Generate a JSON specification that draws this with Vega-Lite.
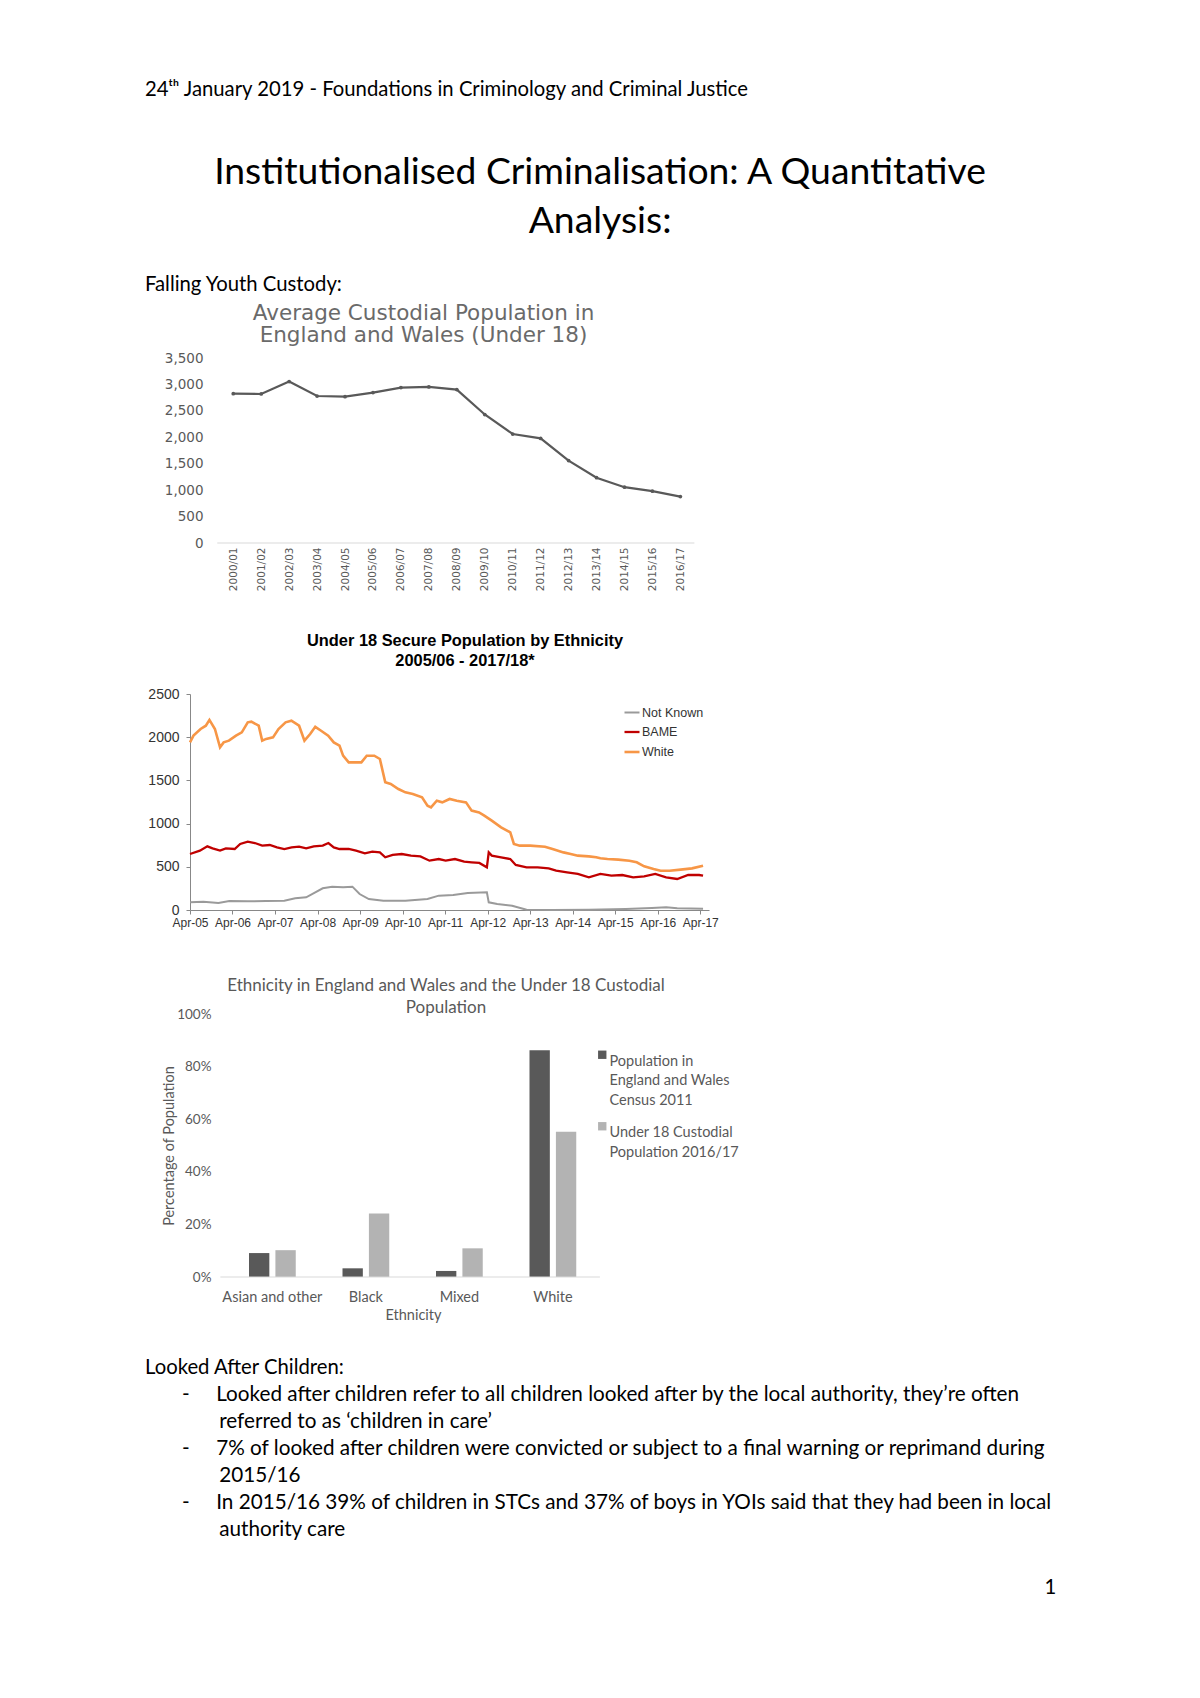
{
  "$schema": "https://vega.github.io/schema/vega-lite/v6.json",
  "background": "white",
  "padding": {"left": 145, "top": 79, "right": 0, "bottom": 0},
  "config": {"view": {"stroke": null}, "font": "Lato", "style": {"guide-label": {"lineHeight": 19.5}}},
  "title": {"text": "24ᵗʰ January 2019 - Foundations in Criminology and Criminal Justice", "anchor": "start", "fontSize": 20.3, "fontWeight": "normal", "font": "Lato", "color": "#000000", "offset": 54},
  "vconcat": [
    {
      "title": {"text": "1", "orient": "bottom", "anchor": "end", "dx": 3, "offset": 38, "fontSize": 20.3, "fontWeight": "normal", "font": "Lato", "color": "#000000"},
      "vconcat": [
        {
          "title": {"text": ["Institutionalised Criminalisation: A Quantitative", "Analysis:"], "anchor": "middle", "fontSize": 37.3, "lineHeight": 49, "fontWeight": "normal", "font": "Lato", "dx": 1, "offset": 34, "color": "#000000"},
          "spacing": 41,
          "resolve": {"scale": {"x": "independent", "y": "independent", "color": "independent", "strokeWidth": "independent"}, "axis": {"x": "independent", "y": "independent"}, "legend": {"color": "independent", "strokeWidth": "independent"}},
          "vconcat": [
            {
              "title": {"text": "Falling Youth Custody:", "anchor": "start", "fontSize": 20.3, "fontWeight": "normal", "font": "Lato", "offset": 7, "color": "#000000"},
              "vconcat": [
                {
                  "width": 503,
                  "height": 185,
                  "title": {"text": ["Average Custodial Population in", "England and Wales (Under 18)"], "fontSize": 21.5, "lineHeight": 22, "color": "#6a6a6a", "fontWeight": "normal", "font": "DejaVu Sans", "offset": 5, "dx": -18},
                  "data": {"values": [
                    {"year": "2000/01", "pop": 2825},
                    {"year": "2001/02", "pop": 2819},
                    {"year": "2002/03", "pop": 3055},
                    {"year": "2003/04", "pop": 2781},
                    {"year": "2004/05", "pop": 2768},
                    {"year": "2005/06", "pop": 2845},
                    {"year": "2006/07", "pop": 2940},
                    {"year": "2007/08", "pop": 2953},
                    {"year": "2008/09", "pop": 2902},
                    {"year": "2009/10", "pop": 2431},
                    {"year": "2010/11", "pop": 2062},
                    {"year": "2011/12", "pop": 1979},
                    {"year": "2012/13", "pop": 1559},
                    {"year": "2013/14", "pop": 1235},
                    {"year": "2014/15", "pop": 1056},
                    {"year": "2015/16", "pop": 980},
                    {"year": "2016/17", "pop": 878}
                  ]},
                  "layer": [
                    {
                      "mark": {"type": "line", "color": "#595959", "strokeWidth": 2.2, "point": {"filled": true, "size": 14, "color": "#595959"}},
                      "encoding": {
                        "x": {"field": "year", "type": "ordinal", "sort": null, "scale": {"type": "point", "padding": 1.125, "align": 0.774}, "axis": {"title": null, "labelAngle": -90, "labelFont": "DejaVu Sans", "labelFontSize": 10.5, "labelColor": "#595959", "domain": false, "ticks": false, "labelPadding": 4}},
                        "y": {"field": "pop", "type": "quantitative", "scale": {"domain": [0, 3500]}, "axis": {"title": null, "values": [0, 500, 1000, 1500, 2000, 2500, 3000, 3500], "format": ",d", "labelOverlap": false, "grid": false, "domain": false, "ticks": false, "offset": -34, "labelPadding": 21, "labelFont": "DejaVu Sans", "labelFontSize": 13.5, "labelColor": "#595959", "minExtent": 79}}
                      }
                    },
                    {
                      "data": {"values": [{}]},
                      "mark": {"type": "rule", "color": "#d9d9d9", "strokeWidth": 1, "xOffset": -16, "x2Offset": 14},
                      "encoding": {
                        "x": {"datum": "2000/01", "type": "ordinal", "axis": {"title": null, "labelAngle": -90, "labelFont": "DejaVu Sans", "labelFontSize": 10.5, "labelColor": "#595959", "domain": false, "ticks": false, "labelPadding": 4}},
                        "x2": {"datum": "2016/17"},
                        "y": {"datum": 0, "type": "quantitative", "axis": {"title": null, "values": [0, 500, 1000, 1500, 2000, 2500, 3000, 3500], "format": ",d", "labelOverlap": false, "grid": false, "domain": false, "ticks": false, "offset": -34, "labelPadding": 21, "labelFont": "DejaVu Sans", "labelFontSize": 13.5, "labelColor": "#595959", "minExtent": 79}}
                      }
                    }
                  ]
                }
              ]
            },
            {
              "width": 519,
              "height": 216,
              "title": {"text": ["Under 18 Secure Population by Ethnicity", "2005/06 - 2017/18*"], "font": "Liberation Sans", "fontSize": 16.4, "fontWeight": "bold", "lineHeight": 20, "color": "#000000", "offset": 18, "dx": 15.5},
              "data": {"values": [
                {"date": "2005-04-01", "series": "Not Known", "value": 89},
                {"date": "2005-07-25", "series": "Not Known", "value": 96},
                {"date": "2005-12-01", "series": "Not Known", "value": 81},
                {"date": "2006-03-05", "series": "Not Known", "value": 104},
                {"date": "2006-08-10", "series": "Not Known", "value": 100},
                {"date": "2007-01-15", "series": "Not Known", "value": 104},
                {"date": "2007-06-20", "series": "Not Known", "value": 108},
                {"date": "2007-09-22", "series": "Not Known", "value": 135},
                {"date": "2007-12-25", "series": "Not Known", "value": 147},
                {"date": "2008-03-12", "series": "Not Known", "value": 204},
                {"date": "2008-05-15", "series": "Not Known", "value": 251},
                {"date": "2008-08-04", "series": "Not Known", "value": 270},
                {"date": "2008-11-06", "series": "Not Known", "value": 262},
                {"date": "2009-01-25", "series": "Not Known", "value": 270},
                {"date": "2009-03-28", "series": "Not Known", "value": 185},
                {"date": "2009-06-15", "series": "Not Known", "value": 127},
                {"date": "2009-10-18", "series": "Not Known", "value": 108},
                {"date": "2010-04-25", "series": "Not Known", "value": 108},
                {"date": "2010-11-01", "series": "Not Known", "value": 127},
                {"date": "2011-02-06", "series": "Not Known", "value": 166},
                {"date": "2011-06-10", "series": "Not Known", "value": 174},
                {"date": "2011-10-13", "series": "Not Known", "value": 197},
                {"date": "2012-03-25", "series": "Not Known", "value": 204},
                {"date": "2012-04-10", "series": "Not Known", "value": 89},
                {"date": "2012-06-22", "series": "Not Known", "value": 69},
                {"date": "2012-10-28", "series": "Not Known", "value": 50},
                {"date": "2013-03-01", "series": "Not Known", "value": 4},
                {"date": "2013-10-10", "series": "Not Known", "value": 0},
                {"date": "2014-08-18", "series": "Not Known", "value": 4},
                {"date": "2015-07-01", "series": "Not Known", "value": 12},
                {"date": "2016-02-10", "series": "Not Known", "value": 23},
                {"date": "2016-06-12", "series": "Not Known", "value": 31},
                {"date": "2016-09-15", "series": "Not Known", "value": 19},
                {"date": "2017-04-25", "series": "Not Known", "value": 15},
                {"date": "2005-04-01", "series": "BAME", "value": 648},
                {"date": "2005-06-25", "series": "BAME", "value": 687},
                {"date": "2005-08-28", "series": "BAME", "value": 737},
                {"date": "2005-10-12", "series": "BAME", "value": 714},
                {"date": "2005-12-15", "series": "BAME", "value": 687},
                {"date": "2006-02-03", "series": "BAME", "value": 714},
                {"date": "2006-04-20", "series": "BAME", "value": 706},
                {"date": "2006-06-06", "series": "BAME", "value": 764},
                {"date": "2006-08-10", "series": "BAME", "value": 791},
                {"date": "2006-10-10", "series": "BAME", "value": 775},
                {"date": "2006-12-12", "series": "BAME", "value": 745},
                {"date": "2007-02-15", "series": "BAME", "value": 752},
                {"date": "2007-04-18", "series": "BAME", "value": 725},
                {"date": "2007-06-20", "series": "BAME", "value": 706},
                {"date": "2007-08-22", "series": "BAME", "value": 725},
                {"date": "2007-10-25", "series": "BAME", "value": 733},
                {"date": "2007-12-25", "series": "BAME", "value": 714},
                {"date": "2008-02-28", "series": "BAME", "value": 737},
                {"date": "2008-05-15", "series": "BAME", "value": 745},
                {"date": "2008-07-03", "series": "BAME", "value": 775},
                {"date": "2008-08-18", "series": "BAME", "value": 725},
                {"date": "2008-10-06", "series": "BAME", "value": 706},
                {"date": "2008-12-24", "series": "BAME", "value": 706},
                {"date": "2009-02-25", "series": "BAME", "value": 687},
                {"date": "2009-05-12", "series": "BAME", "value": 656},
                {"date": "2009-07-15", "series": "BAME", "value": 675},
                {"date": "2009-09-18", "series": "BAME", "value": 667},
                {"date": "2009-11-03", "series": "BAME", "value": 610},
                {"date": "2010-01-06", "series": "BAME", "value": 637},
                {"date": "2010-03-25", "series": "BAME", "value": 648},
                {"date": "2010-06-12", "series": "BAME", "value": 629},
                {"date": "2010-09-01", "series": "BAME", "value": 621},
                {"date": "2010-11-18", "series": "BAME", "value": 571},
                {"date": "2011-02-06", "series": "BAME", "value": 590},
                {"date": "2011-04-06", "series": "BAME", "value": 571},
                {"date": "2011-06-25", "series": "BAME", "value": 590},
                {"date": "2011-09-12", "series": "BAME", "value": 559},
                {"date": "2011-11-15", "series": "BAME", "value": 552},
                {"date": "2012-01-20", "series": "BAME", "value": 545},
                {"date": "2012-03-25", "series": "BAME", "value": 494},
                {"date": "2012-04-10", "series": "BAME", "value": 667},
                {"date": "2012-05-06", "series": "BAME", "value": 629},
                {"date": "2012-07-25", "series": "BAME", "value": 610},
                {"date": "2012-10-12", "series": "BAME", "value": 590},
                {"date": "2012-11-28", "series": "BAME", "value": 521},
                {"date": "2013-03-01", "series": "BAME", "value": 494},
                {"date": "2013-06-04", "series": "BAME", "value": 494},
                {"date": "2013-09-07", "series": "BAME", "value": 482},
                {"date": "2013-11-10", "series": "BAME", "value": 455},
                {"date": "2014-02-12", "series": "BAME", "value": 436},
                {"date": "2014-05-15", "series": "BAME", "value": 417},
                {"date": "2014-08-18", "series": "BAME", "value": 378},
                {"date": "2014-11-25", "series": "BAME", "value": 417},
                {"date": "2015-02-28", "series": "BAME", "value": 397},
                {"date": "2015-06-01", "series": "BAME", "value": 405},
                {"date": "2015-09-03", "series": "BAME", "value": 378},
                {"date": "2015-12-06", "series": "BAME", "value": 390},
                {"date": "2016-03-10", "series": "BAME", "value": 417},
                {"date": "2016-06-12", "series": "BAME", "value": 378},
                {"date": "2016-09-15", "series": "BAME", "value": 359},
                {"date": "2016-12-18", "series": "BAME", "value": 405},
                {"date": "2017-03-22", "series": "BAME", "value": 405},
                {"date": "2017-04-25", "series": "BAME", "value": 397},
                {"date": "2005-04-01", "series": "White", "value": 1940},
                {"date": "2005-05-01", "series": "White", "value": 2018},
                {"date": "2005-07-01", "series": "White", "value": 2095},
                {"date": "2005-08-15", "series": "White", "value": 2133},
                {"date": "2005-09-15", "series": "White", "value": 2200},
                {"date": "2005-11-01", "series": "White", "value": 2095},
                {"date": "2005-12-15", "series": "White", "value": 1883},
                {"date": "2006-01-15", "series": "White", "value": 1940},
                {"date": "2006-03-01", "series": "White", "value": 1960},
                {"date": "2006-05-01", "series": "White", "value": 2018},
                {"date": "2006-06-20", "series": "White", "value": 2056},
                {"date": "2006-08-10", "series": "White", "value": 2172},
                {"date": "2006-09-10", "series": "White", "value": 2180},
                {"date": "2006-11-12", "series": "White", "value": 2133},
                {"date": "2006-12-12", "series": "White", "value": 1960},
                {"date": "2007-01-15", "series": "White", "value": 1980},
                {"date": "2007-03-15", "series": "White", "value": 1998},
                {"date": "2007-05-01", "series": "White", "value": 2095},
                {"date": "2007-07-01", "series": "White", "value": 2172},
                {"date": "2007-08-20", "series": "White", "value": 2191},
                {"date": "2007-10-25", "series": "White", "value": 2133},
                {"date": "2007-12-10", "series": "White", "value": 1960},
                {"date": "2008-01-28", "series": "White", "value": 2037},
                {"date": "2008-03-12", "series": "White", "value": 2120},
                {"date": "2008-05-01", "series": "White", "value": 2075},
                {"date": "2008-07-01", "series": "White", "value": 2018},
                {"date": "2008-08-18", "series": "White", "value": 1940},
                {"date": "2008-10-06", "series": "White", "value": 1902},
                {"date": "2008-11-06", "series": "White", "value": 1786},
                {"date": "2008-12-24", "series": "White", "value": 1709},
                {"date": "2009-02-10", "series": "White", "value": 1709},
                {"date": "2009-04-12", "series": "White", "value": 1709},
                {"date": "2009-05-28", "series": "White", "value": 1786},
                {"date": "2009-08-01", "series": "White", "value": 1786},
                {"date": "2009-09-18", "series": "White", "value": 1748},
                {"date": "2009-11-03", "series": "White", "value": 1478},
                {"date": "2009-12-20", "series": "White", "value": 1458},
                {"date": "2010-02-24", "series": "White", "value": 1400},
                {"date": "2010-04-25", "series": "White", "value": 1362},
                {"date": "2010-06-28", "series": "White", "value": 1343},
                {"date": "2010-09-15", "series": "White", "value": 1304},
                {"date": "2010-11-01", "series": "White", "value": 1207},
                {"date": "2010-12-01", "series": "White", "value": 1188},
                {"date": "2011-01-20", "series": "White", "value": 1265},
                {"date": "2011-03-08", "series": "White", "value": 1246},
                {"date": "2011-05-10", "series": "White", "value": 1285},
                {"date": "2011-07-10", "series": "White", "value": 1265},
                {"date": "2011-09-28", "series": "White", "value": 1246},
                {"date": "2011-11-15", "series": "White", "value": 1150},
                {"date": "2012-01-18", "series": "White", "value": 1130},
                {"date": "2012-03-03", "series": "White", "value": 1092},
                {"date": "2012-05-06", "series": "White", "value": 1034},
                {"date": "2012-07-25", "series": "White", "value": 957},
                {"date": "2012-10-12", "series": "White", "value": 899},
                {"date": "2012-11-12", "series": "White", "value": 764},
                {"date": "2013-01-01", "series": "White", "value": 745},
                {"date": "2013-04-01", "series": "White", "value": 745},
                {"date": "2013-08-06", "series": "White", "value": 733},
                {"date": "2013-10-10", "series": "White", "value": 706},
                {"date": "2014-01-12", "series": "White", "value": 667},
                {"date": "2014-03-15", "series": "White", "value": 648},
                {"date": "2014-05-15", "series": "White", "value": 629},
                {"date": "2014-08-18", "series": "White", "value": 621},
                {"date": "2014-10-20", "series": "White", "value": 610},
                {"date": "2014-11-25", "series": "White", "value": 598},
                {"date": "2015-01-25", "series": "White", "value": 590},
                {"date": "2015-04-28", "series": "White", "value": 583},
                {"date": "2015-08-01", "series": "White", "value": 571},
                {"date": "2015-10-03", "series": "White", "value": 552},
                {"date": "2015-12-06", "series": "White", "value": 505},
                {"date": "2016-02-25", "series": "White", "value": 475},
                {"date": "2016-04-25", "series": "White", "value": 455},
                {"date": "2016-07-12", "series": "White", "value": 455},
                {"date": "2016-10-15", "series": "White", "value": 467},
                {"date": "2017-01-20", "series": "White", "value": 482},
                {"date": "2017-04-25", "series": "White", "value": 513}
              ]},
              "mark": {"type": "line"},
              "encoding": {
                "x": {"field": "date", "type": "temporal", "scale": {"type": "utc", "domain": [{"year": 2005, "month": 4, "date": 1, "utc": true}, {"year": 2017, "month": 6, "date": 15, "utc": true}]}, "axis": {"title": null, "values": [
                  {"year": 2005, "month": 4, "date": 1, "utc": true},
                  {"year": 2006, "month": 4, "date": 1, "utc": true},
                  {"year": 2007, "month": 4, "date": 1, "utc": true},
                  {"year": 2008, "month": 4, "date": 1, "utc": true},
                  {"year": 2009, "month": 4, "date": 1, "utc": true},
                  {"year": 2010, "month": 4, "date": 1, "utc": true},
                  {"year": 2011, "month": 4, "date": 1, "utc": true},
                  {"year": 2012, "month": 4, "date": 1, "utc": true},
                  {"year": 2013, "month": 4, "date": 1, "utc": true},
                  {"year": 2014, "month": 4, "date": 1, "utc": true},
                  {"year": 2015, "month": 4, "date": 1, "utc": true},
                  {"year": 2016, "month": 4, "date": 1, "utc": true},
                  {"year": 2017, "month": 4, "date": 1, "utc": true}
                ], "format": "%b-%y", "labelOverlap": false, "labelFlush": false, "labelFont": "Liberation Sans", "labelFontSize": 12, "labelColor": "#333333", "domainColor": "#888888", "tickColor": "#888888", "tickSize": 4, "grid": false, "labelPadding": 3, "minExtent": 26}},
                "y": {"field": "value", "type": "quantitative", "scale": {"domain": [0, 2500]}, "axis": {"title": null, "values": [0, 500, 1000, 1500, 2000, 2500], "format": "d", "grid": false, "domainColor": "#888888", "tickColor": "#888888", "tickSize": 4, "labelPadding": 7, "labelFont": "Liberation Sans", "labelFontSize": 14, "labelColor": "#333333", "minExtent": 45}},
                "color": {"field": "series", "type": "nominal", "scale": {"domain": ["Not Known", "BAME", "White"], "range": ["#9a9a9a", "#c00000", "#f79646"]}, "legend": {"title": null, "orient": "none", "legendX": 433, "legendY": 10, "symbolType": "stroke", "symbolSize": 225, "symbolStrokeWidth": 2, "labelFont": "Liberation Sans", "labelFontSize": 12.5, "labelColor": "#333333", "rowPadding": 4, "padding": 0, "labelOffset": 1}},
                "strokeWidth": {"field": "series", "type": "ordinal", "scale": {"domain": ["Not Known", "BAME", "White"], "range": [2, 2.6, 2]}, "legend": null}
              }
            },
            {
              "title": {"text": "Looked After Children:", "subtitle": [
                "\u200b\u00a0\u00a0\u00a0\u00a0\u00a0\u00a0\u00a0-\u00a0\u00a0\u00a0\u00a0\u00a0Looked after children refer to all children looked after by the local authority, they’re often",
                "\u200b\u00a0\u00a0\u00a0\u00a0\u00a0\u00a0\u00a0\u00a0\u00a0\u00a0\u00a0\u00a0\u00a0\u00a0referred to as ‘children in care’",
                "\u200b\u00a0\u00a0\u00a0\u00a0\u00a0\u00a0\u00a0-\u00a0\u00a0\u00a0\u00a0\u00a07% of looked after children were convicted or subject to a final warning or reprimand during",
                "\u200b\u00a0\u00a0\u00a0\u00a0\u00a0\u00a0\u00a0\u00a0\u00a0\u00a0\u00a0\u00a0\u00a0\u00a02015/16",
                "\u200b\u00a0\u00a0\u00a0\u00a0\u00a0\u00a0\u00a0-\u00a0\u00a0\u00a0\u00a0\u00a0In 2015/16 39% of children in STCs and 37% of boys in YOIs said that they had been in local",
                "\u200b\u00a0\u00a0\u00a0\u00a0\u00a0\u00a0\u00a0\u00a0\u00a0\u00a0\u00a0\u00a0\u00a0\u00a0authority care"
              ], "orient": "bottom", "anchor": "start", "fontSize": 20.3, "fontWeight": "normal", "font": "Lato", "color": "#000000", "subtitleFont": "Lato", "subtitleFontSize": 20.7, "subtitleColor": "#000000", "subtitleLineHeight": 27, "subtitlePadding": 7, "offset": 35.5},
              "vconcat": [
                {
                  "width": 410,
                  "height": 263,
                  "title": {"text": ["Ethnicity in England and Wales and the Under 18 Custodial", "Population"], "fontSize": 17, "lineHeight": 22, "color": "#595959", "fontWeight": "normal", "font": "Lato", "offset": -10, "dx": 51},
                  "data": {"values": [
                    {"ethnicity": "Asian and other", "group": "Population in England and Wales Census 2011", "pct": 0.091},
                    {"ethnicity": "Asian and other", "group": "Under 18 Custodial Population 2016/17", "pct": 0.102},
                    {"ethnicity": "Black", "group": "Population in England and Wales Census 2011", "pct": 0.033},
                    {"ethnicity": "Black", "group": "Under 18 Custodial Population 2016/17", "pct": 0.241},
                    {"ethnicity": "Mixed", "group": "Population in England and Wales Census 2011", "pct": 0.023},
                    {"ethnicity": "Mixed", "group": "Under 18 Custodial Population 2016/17", "pct": 0.109},
                    {"ethnicity": "White", "group": "Population in England and Wales Census 2011", "pct": 0.862},
                    {"ethnicity": "White", "group": "Under 18 Custodial Population 2016/17", "pct": 0.552}
                  ]},
                  "layer": [
                    {
                      "mark": {"type": "bar"},
                      "encoding": {
                        "x": {"field": "ethnicity", "type": "nominal", "sort": ["Asian and other", "Black", "Mixed", "White"], "scale": {"paddingInner": 0.5, "paddingOuter": 0.4425, "align": 0.713}, "axis": {"title": "Ethnicity", "titleX": 223, "labelAngle": 0, "ticks": false, "domain": false, "labelFontSize": 14.5, "labelColor": "#595959", "labelPadding": 13, "titleFontSize": 14.5, "titleFontWeight": "normal", "titleColor": "#595959", "titlePadding": 5}},
                        "xOffset": {"field": "group", "type": "nominal", "scale": {"paddingInner": 0.23}},
                        "y": {"field": "pct", "type": "quantitative", "scale": {"domain": [0, 1]}, "axis": {"title": "Percentage of Population", "format": ".0%", "values": [0, 0.2, 0.4, 0.6, 0.8, 1], "grid": false, "domain": false, "ticks": false, "offset": -36, "labelPadding": 15, "labelFontSize": 13.5, "labelColor": "#595959", "titleFontSize": 14.5, "titleFontWeight": "normal", "titleColor": "#595959", "minExtent": 81, "titleX": -50}},
                        "color": {"field": "group", "type": "nominal", "scale": {"domain": ["Population in England and Wales Census 2011", "Under 18 Custodial Population 2016/17"], "range": ["#595959", "#b3b3b3"]}, "legend": {"title": null, "orient": "none", "legendX": 405, "legendY": 33.5, "symbolType": "square", "symbolSize": 70, "labelFontSize": 14.5, "labelColor": "#595959", "labelLimit": 300, "labelOffset": 0, "rowPadding": 11.5, "labelBaseline": "top", "labelExpr": "datum.label == 'Population in England and Wales Census 2011' ? ['Population in', 'England and Wales', 'Census 2011'] : ['Under 18 Custodial', 'Population 2016/17']"}}
                      }
                    },
                    {
                      "data": {"values": [{}]},
                      "mark": {"type": "rule", "color": "#d9d9d9", "strokeWidth": 1, "xOffset": -52, "x2Offset": 47},
                      "encoding": {
                        "x": {"datum": "Asian and other", "type": "nominal", "bandPosition": 0.5, "axis": {"title": "Ethnicity", "titleX": 223, "labelAngle": 0, "ticks": false, "domain": false, "labelFontSize": 14.5, "labelColor": "#595959", "labelPadding": 13, "titleFontSize": 14.5, "titleFontWeight": "normal", "titleColor": "#595959", "titlePadding": 5}},
                        "x2": {"datum": "White", "bandPosition": 0.5},
                        "y": {"datum": 0, "type": "quantitative", "axis": {"title": "Percentage of Population", "format": ".0%", "values": [0, 0.2, 0.4, 0.6, 0.8, 1], "grid": false, "domain": false, "ticks": false, "offset": -36, "labelPadding": 15, "labelFontSize": 13.5, "labelColor": "#595959", "titleFontSize": 14.5, "titleFontWeight": "normal", "titleColor": "#595959", "minExtent": 81, "titleX": -50}}
                      }
                    }
                  ]
                }
              ]
            }
          ]
        }
      ]
    }
  ]
}
